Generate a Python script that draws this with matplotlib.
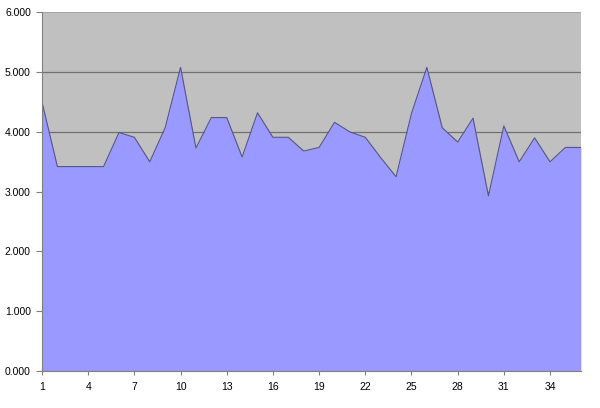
import matplotlib
matplotlib.use("Agg")
import matplotlib.pyplot as plt
import numpy as np

plt.rcParams["font.family"] = ["Liberation Sans", "DejaVu Sans"]

categories = list(range(1, 37))
values = [4.50, 3.42, 3.42, 3.42, 3.42, 3.99, 3.91, 3.50, 4.07, 5.08,
          3.73, 4.24, 4.24, 3.58, 4.32, 3.91, 3.91, 3.68, 3.74, 4.16,
          4.00, 3.91, 3.57, 3.25, 4.31, 5.08, 4.07, 3.83, 4.23, 2.93,
          4.10, 3.50, 3.90, 3.50, 3.74, 3.74]
xtick_labels = [str(v) for v in range(1, 37, 3)]
ytick_values = [0, 1, 2, 3, 4, 5, 6]

fig = plt.figure(figsize=(6.0, 4.08), dpi=100)
ax = fig.add_axes([0.07, 0.0907, 0.898, 0.879])
ax.set_facecolor("#C0C0C0")

ax.fill_between(categories, values, 0, color="#9999FF", linewidth=0, zorder=2)
ax.plot(categories, values, color="#55558A", linewidth=0.8, zorder=3)

ax.set_xlim(categories[0], categories[-1])
ax.set_ylim(0, 6)
ax.set_yticks(ytick_values)
ax.set_yticklabels([f"{v:.3f}" for v in ytick_values])
ax.set_xticks(list(range(1, 37, 3)))
ax.set_xticklabels(xtick_labels)

for y in ytick_values[1:-1]:
    ax.axhline(y, color="#707070", linewidth=0.9, zorder=1)
ax.axhline(ytick_values[-1], color="#A0A0A0", linewidth=1.2, zorder=1)

for s in ["top", "right"]:
    ax.spines[s].set_visible(False)
ax.spines["left"].set_color("#808080")
ax.spines["bottom"].set_color("#808080")
ax.spines["left"].set_zorder(4)
ax.spines["bottom"].set_zorder(4)

ax.tick_params(axis="y", direction="out", length=4, color="#808080", labelsize=7.5, pad=4)
ax.tick_params(axis="x", direction="inout", length=6, color="#808080", labelsize=7.5, pad=5)

fig.savefig("out.png", dpi=100)
